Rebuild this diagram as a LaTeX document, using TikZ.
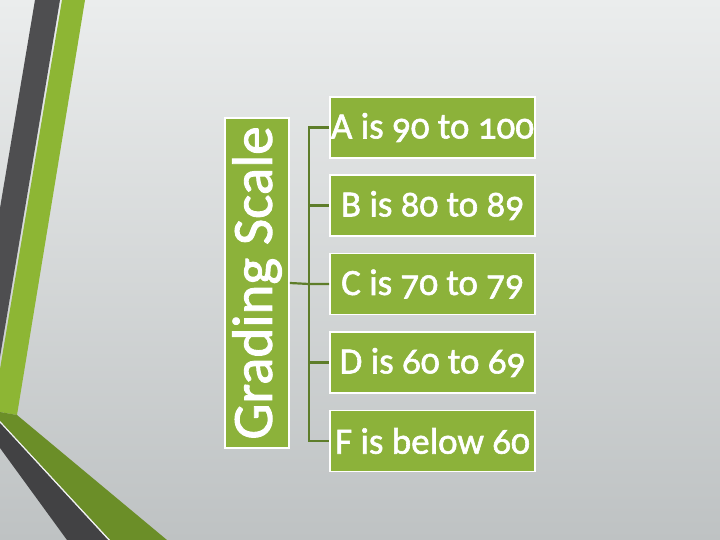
\documentclass[tikz,border=0pt]{standalone}
\usepackage{fontspec}
\setmainfont{Carlito}[Numbers=OldStyle, FakeBold=1.6]
\definecolor{boxgreen}{HTML}{8CB23A}
\definecolor{stripegreen}{HTML}{8DB634}
\definecolor{darkgreen}{HTML}{6B8E28}
\definecolor{stripegray}{HTML}{4E4E50}
\definecolor{linegreen}{HTML}{5E7D2A}
\definecolor{bgtop}{HTML}{EBEDED}
\definecolor{bgbot}{HTML}{BEC2C3}
\tikzset{
  gradebox/.style={draw=white, line width=1.8pt, fill=boxgreen, text=white, minimum width=205pt, minimum height=61pt, inner sep=0pt, font=\fontsize{37}{42}\selectfont},
  titlebox/.style={draw=white, line width=1.8pt, fill=boxgreen, text=white, minimum width=330pt, minimum height=64pt, inner sep=0pt, font=\fontsize{57}{60}\selectfont, rotate=90},
  conn/.style={draw=linegreen, line width=2.2pt}
}
\begin{document}
\begin{tikzpicture}[x=1pt,y=-1pt]
\useasboundingbox (0,0) rectangle (720,540);
\shade[top color=bgtop, bottom color=bgbot] (0,0) rectangle (720,540);
% background stripes
\fill[stripegray] (35,0) -- (60,0) -- (0,357) -- (0,208) -- cycle;
\fill[stripegreen] (62,0) -- (85,0) -- (17,415) -- (0,412) -- (0,369) -- cycle;
\fill[darkgreen] (0,412) -- (17,415) -- (167,540) -- (110,540) -- (0,421) -- cycle;
\fill[white!80!bgbot] (0,421) -- (110,540) -- (108,540) -- (0,423) -- cycle;
\fill[stripegray!85!black] (0,423) -- (108,540) -- (67,540) -- (0,448) -- cycle;
% nodes
\node[titlebox] (title) at (257,283) {\raisebox{-3pt}{Grading Scale}};
\node[gradebox] (a) at (432.5,127.5) {A is 90 to 100};
\node[gradebox] (b) at (432.5,205.5) {B is 80 to 89};
\node[gradebox] (c) at (432.5,284) {C is 70 to 79};
\node[gradebox] (d) at (432.5,362.5) {D is 60 to 69};
\node[gradebox] (f) at (432.5,441) {F is below 60};
\coordinate (trunk) at (309,0);
% connectors
\draw[conn] (title.south) -- (c.west -| trunk) -- (c.west);
\draw[conn] (a.west) -- (a.west -| trunk) -- (f.west -| trunk) -- (f.west);
\draw[conn] (b.west -| trunk) -- (b.west);
\draw[conn] (d.west -| trunk) -- (d.west);
\end{tikzpicture}
\end{document}
